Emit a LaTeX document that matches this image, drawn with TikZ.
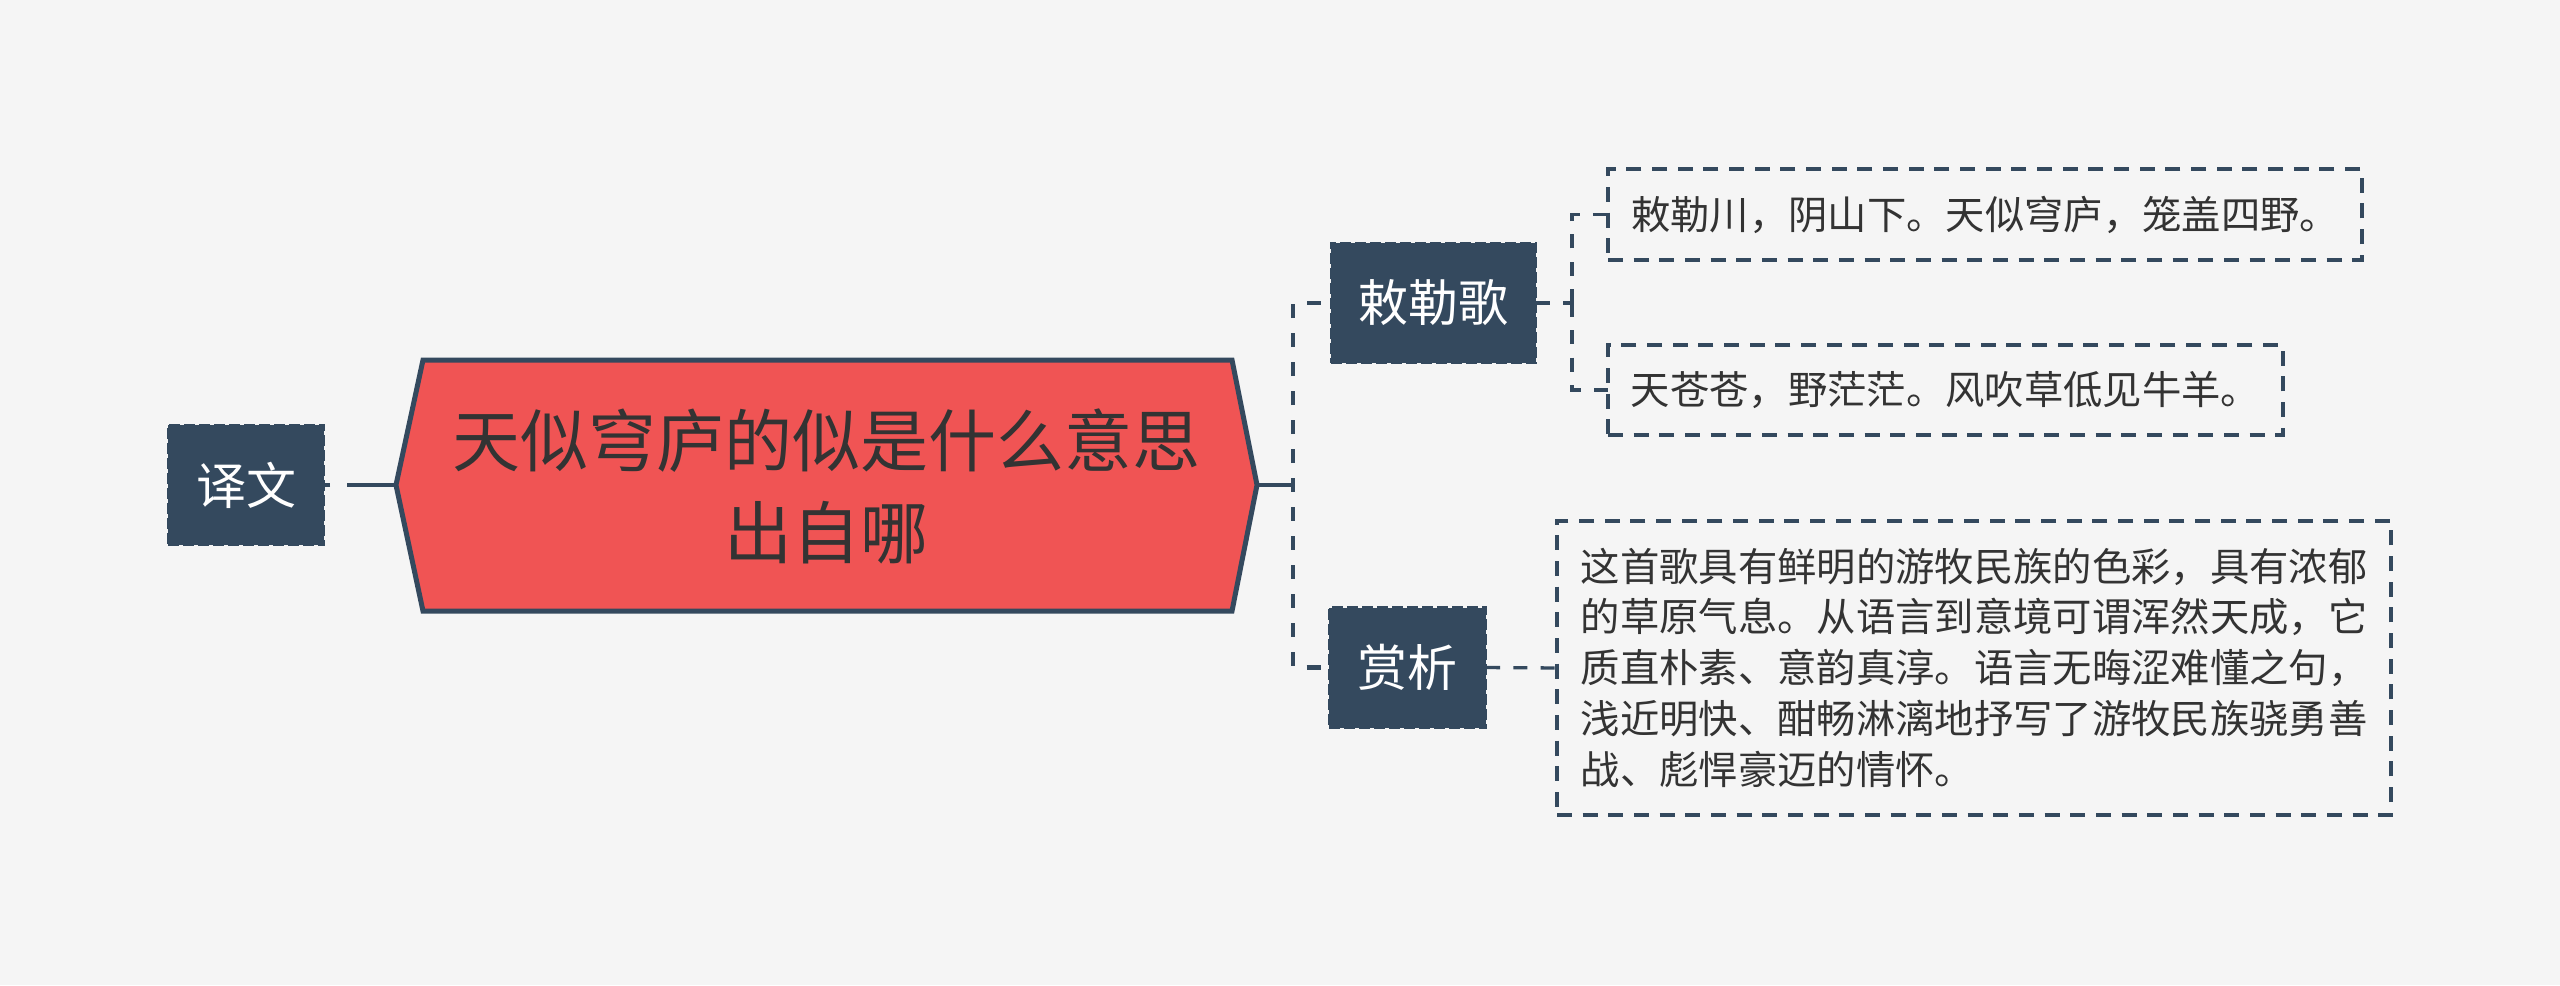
\documentclass[tikz,border=0pt]{standalone}
\usepackage{fontspec}
\newfontfamily\cjk{Noto Sans CJK SC}
\definecolor{navy}{RGB}{52,73,94}
\definecolor{hexred}{RGB}{240,84,84}
\definecolor{bg}{RGB}{245,245,245}
\definecolor{txt}{RGB}{51,51,51}
\begin{document}
\begin{tikzpicture}[x=0.3pt,y=-0.3pt,
 topic/.style={fill=navy, draw=navy, line width=0.8pt, dash pattern=on 3.3pt off 1.2pt, text=white, font=\cjk\fontsize{15pt}{18pt}\selectfont, inner sep=0pt, outer sep=0pt, minimum height=36pt},
 leaf/.style={draw=navy, line width=0.95pt, dash pattern=on 4.5pt off 3.2pt, text=txt, font=\cjk\fontsize{11.8pt}{15.3pt}\selectfont, align=left, inner xsep=6pt, inner ysep=0pt, outer sep=0pt},
 main/.style={draw=navy, line width=1.35pt},
 maindash/.style={main, dash pattern=on 4.2pt off 4.5pt, dash phase=2.1pt},
 leafdash/.style={draw=navy, line width=1pt, dash pattern=on 4.2pt off 4pt}]

\fill[bg] (0,0) rectangle (2560,985);
\useasboundingbox (0,0) rectangle (2560,985);

% central topic
\filldraw[fill=hexred, draw=navy, line width=1.5pt, line join=miter] (396,485) -- (423,360) -- (1232,360) -- (1257,485) -- (1232,611) -- (423,611) -- cycle;
\node[text=txt, font=\cjk\fontsize{20.4pt}{27.6pt}\selectfont, align=center] (root) at (826,486) {天似穹庐的似是什么意思\\出自哪};
\coordinate (rootL) at (396,485);
\coordinate (rootR) at (1257,485);
\coordinate (spine) at (1293,485);

% topics
\node[topic, minimum width=46.8pt] (yiwen) at (246,485) {译文};
\node[topic, minimum width=61.5pt] (chile) at (1433.5,303) {敕勒歌};
\node[topic, minimum width=47.1pt] (shangxi) at (1407.5,667.5) {赏析};

% leaves
\node[leaf, minimum width=226.2pt, minimum height=27.3pt] (leafa) at (1985,214.5) {敕勒川，阴山下。天似穹庐，笼盖四野。};
\node[leaf, minimum width=202.5pt, minimum height=27pt] (leafb) at (1945.5,390) {天苍苍，野茫茫。风吹草低见牛羊。};
\node[leaf, minimum width=250.2pt, minimum height=88.2pt] (leafc) at (1974,668) {这首歌具有鲜明的游牧民族的色彩，具有浓郁\\的草原气息。从语言到意境可谓浑然天成，它\\质直朴素、意韵真淳。语言无晦涩难懂之句，\\浅近明快、酣畅淋漓地抒写了游牧民族骁勇善\\战、彪悍豪迈的情怀。};

% connectors
\draw[main, dash pattern=on 14.7pt off 5.1pt on 10pt] (rootL) -- (yiwen.east);
\draw[main] (rootR) -- (spine);
\draw[maindash] (spine) |- (chile.west);
\draw[maindash] (spine) |- (shangxi.west);
\coordinate (cspine) at (1572,303);
\draw[leafdash] (chile.east) -- (cspine);
\draw[leafdash] (cspine) |- (leafa.west);
\draw[leafdash] (cspine) |- (leafb.west);
\draw[leafdash] (shangxi.east) -- (leafc.west);
\end{tikzpicture}
\end{document}
